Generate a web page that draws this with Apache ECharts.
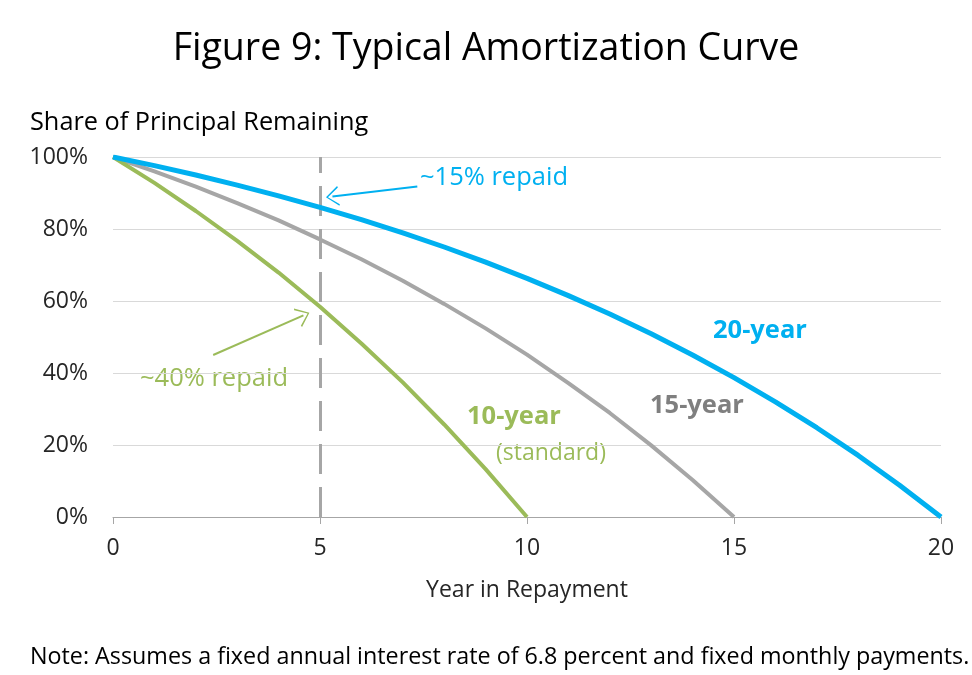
<!DOCTYPE html>
<html>
<head>
<meta charset="utf-8">
<script src="https://cdn.jsdelivr.net/npm/echarts@6/dist/echarts.min.js"></script>
<style>
  html, body { margin: 0; padding: 0; background: #fff; }
  #chart { width: 972px; height: 675px; }
</style>
</head>
<body>
<div id="chart"></div>
<script>
// share of principal remaining (%), read at each year
const years10 = [0, 1, 2, 3, 4, 5, 6, 7, 8, 9, 10];
const loan10 = [100, 92.8, 85.0, 76.7, 67.9, 58.4, 48.2, 37.4, 25.7, 13.3, 0];

const years15 = [0, 1, 2, 3, 4, 5, 6, 7, 8, 9, 10, 11, 12, 13, 14, 15];
const loan15 = [100, 96.0, 91.8, 87.2, 82.4, 77.1, 71.6, 65.6, 59.2, 52.4, 45.1, 37.2, 28.9, 19.9, 10.3, 0];

const years20 = [0, 1, 2, 3, 4, 5, 6, 7, 8, 9, 10, 11, 12, 13, 14, 15, 16, 17, 18, 19, 20];
const loan20 = [100, 97.6, 95.0, 92.2, 89.2, 86.0, 82.6, 78.9, 75.0, 70.8, 66.3, 61.5, 56.4, 50.9, 45.0, 38.7, 32.0, 24.8, 17.1, 8.8, 0];

const markYear = 5;
// annotation arrows [tail, head] in data units
const arrow15 = [[7.35, 91.8], [5.3, 89.0]];
const arrow40 = [[2.42, 45.0], [4.6, 56.0]];

const BLUE = '#00b0f0';
const GRAY = '#a6a6a6';
const GREEN = '#9bbb59';
const FONT = 'Open Sans';

const pair = (xs, ys) => xs.map((x, i) => [x, ys[i]]);
const chevron = 'path://M0,20 L10,0 L20,20 L18.4,21 L10,3.2 L1.6,21 Z';
const dash = { color: GRAY, width: 3, type: [30, 13], dashOffset: 14 };

// text helper: x = left edge, y = vertical middle
const label = (text, x, y, size, fill, weight) => ({
  type: 'text', x, y,
  style: { text, fontSize: size, fontFamily: FONT, fill, fontWeight: weight || 'normal', textVerticalAlign: 'middle' }
});

const chart = echarts.init(document.getElementById('chart'));

chart.setOption({
  animation: false,
  textStyle: { fontFamily: FONT },
  grid: { left: 113, right: 31, top: 157, bottom: 158 },
  xAxis: {
    type: 'value',
    min: 0,
    max: 20,
    interval: 5,
    name: 'Year in Repayment',
    nameLocation: 'middle',
    nameGap: 62,
    nameTextStyle: { fontSize: 23, color: '#262626', fontFamily: FONT },
    axisLine: { lineStyle: { color: '#a6a6a6', width: 1 } },
    axisTick: { show: true, length: 7, lineStyle: { color: '#a6a6a6' } },
    axisLabel: { fontSize: 23, color: '#262626', margin: 20 },
    splitLine: { show: false }
  },
  yAxis: {
    type: 'value',
    min: 0,
    max: 100,
    interval: 20,
    axisLine: { show: false },
    axisTick: { show: false },
    axisLabel: { fontSize: 23, color: '#262626', margin: 25, formatter: '{value}%' },
    splitLine: { lineStyle: { color: '#d9d9d9', width: 1 } }
  },
  series: [
    {
      type: 'line',
      name: '15-year',
      data: pair(years15, loan15),
      symbol: 'none',
      lineStyle: { color: GRAY, width: 4 },
      z: 3,
      markLine: {
        silent: true,
        symbol: 'none',
        label: { show: false },
        lineStyle: dash,
        data: [[{ coord: [markYear, 100], lineStyle: dash }, { coord: [markYear, 0] }]]
      }
    },
    {
      type: 'line',
      name: '10-year',
      data: pair(years10, loan10),
      symbol: 'none',
      lineStyle: { color: GREEN, width: 4 },
      z: 4,
      markLine: {
        silent: true,
        symbol: ['none', chevron],
        symbolSize: [20, 13],
        label: { show: false },
        lineStyle: { color: GREEN, width: 2, type: 'solid' },
        data: [[{ coord: arrow40[0] }, { coord: arrow40[1] }]]
      }
    },
    {
      type: 'line',
      name: '20-year',
      data: pair(years20, loan20),
      symbol: 'none',
      lineStyle: { color: BLUE, width: 5 },
      z: 5,
      markLine: {
        silent: true,
        symbol: ['none', chevron],
        symbolSize: [20, 13],
        label: { show: false },
        lineStyle: { color: BLUE, width: 2, type: 'solid' },
        data: [[{ coord: arrow15[0] }, { coord: arrow15[1] }]]
      }
    }
  ],
  graphic: [
    { type: 'text', left: 'center', top: 30, style: { text: 'Figure 9: Typical Amortization Curve', fontSize: 37.5, fontFamily: FONT, fill: '#000' } },
    label('Share of Principal Remaining', 30, 123, 25.3, '#000'),
    label('Note: Assumes a fixed annual interest rate of 6.8 percent and fixed monthly payments.', 30, 657, 23.3, '#000'),
    label('~15% repaid', 420, 178, 25.5, BLUE),
    label('~40% repaid', 140, 379, 25.5, GREEN),
    label('20-year', 713, 331, 25.5, BLUE, 'bold'),
    label('15-year', 650, 406, 25.5, '#7f7f7f', 'bold'),
    label('10-year', 467, 417, 25.5, GREEN, 'bold'),
    label('(standard)', 496, 453, 23, GREEN)
  ]
});
</script>
</body>
</html>
